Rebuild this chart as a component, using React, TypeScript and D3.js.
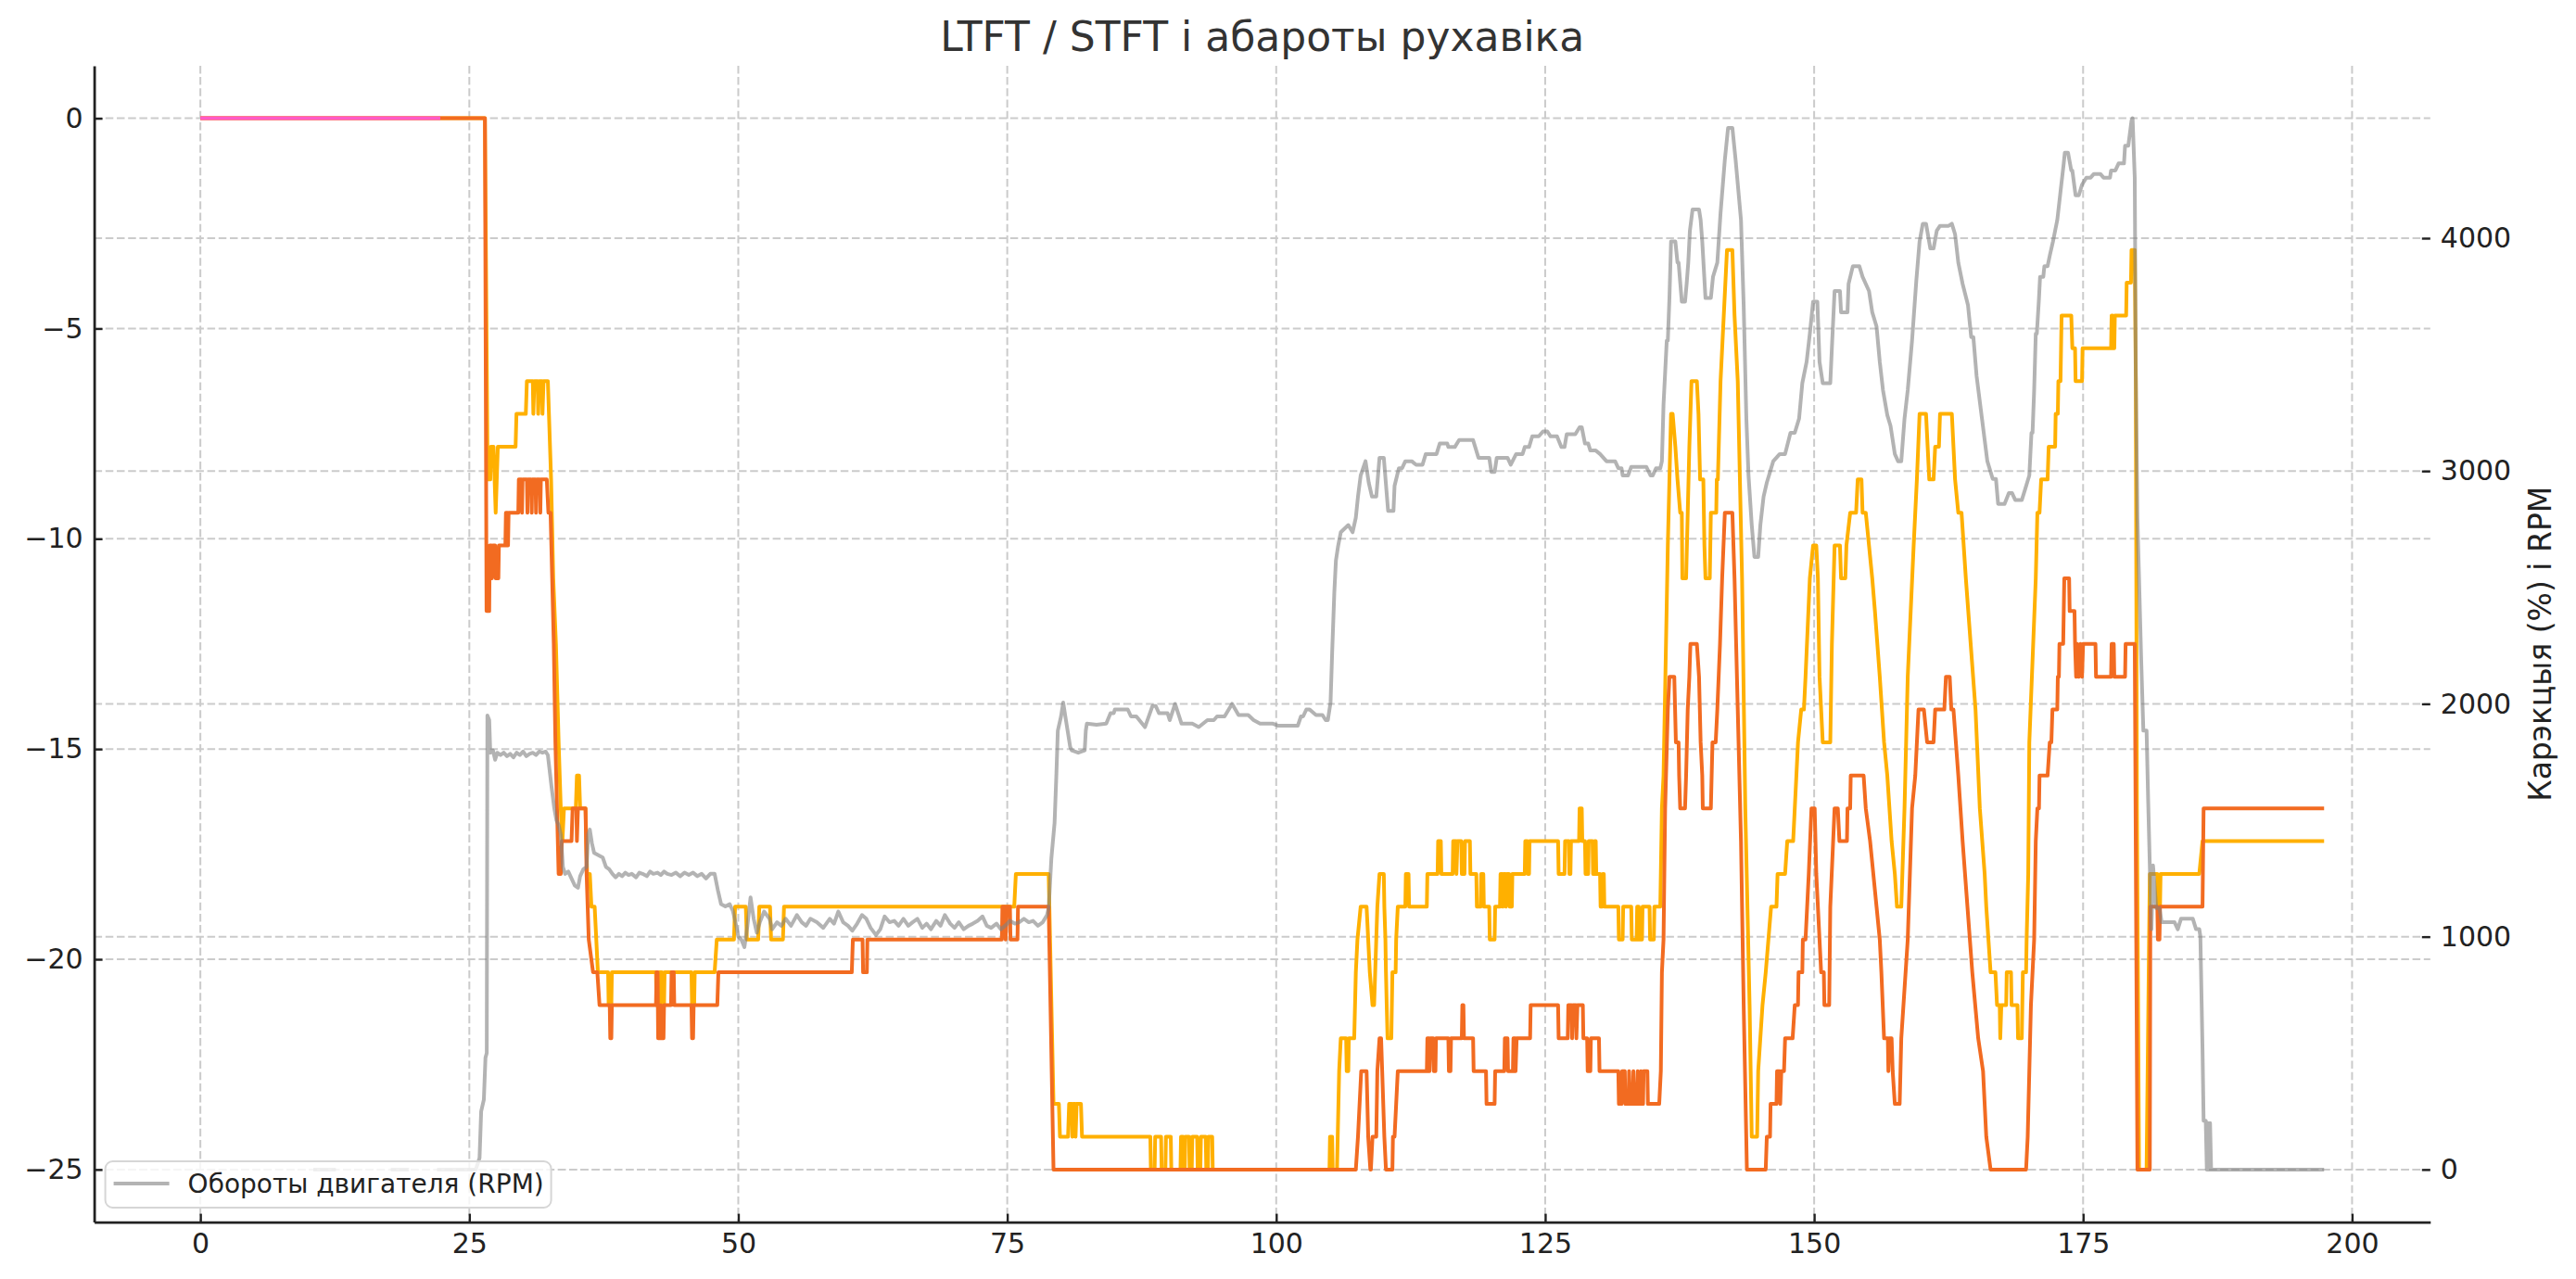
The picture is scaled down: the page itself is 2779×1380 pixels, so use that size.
import { useRef, useEffect } from "react";
import * as d3 from "d3";

type Pt = [number, number | null];

const TITLE = "LTFT / STFT і абароты рухавіка";
const RIGHT_LABEL = "Карэкцыя (%) і RPM";
const LEGEND_LABEL = "Обороты двигателя (RPM)";

const X_TICKS = [0, 25, 50, 75, 100, 125, 150, 175, 200];
const TRIM_TICKS = [-25, -20, -15, -10, -5, 0];
const RPM_TICKS = [0, 1000, 2000, 3000, 4000];

const W = 2779;
const H = 1380;
const FONT = "'DejaVu Sans', sans-serif";

const YELLOW = "#ffb000";
const ORANGE = "#f26b21";
const PINK = "#ff5ac8";
const GRID = "#cbcbcb";

// short trim trace at start (only before engine start)
const INIT_TRIM: Pt[] = [[0, 0], [22.3, 0]];

// STFT, yellow
const STFT: Pt[] = [
  [0, 0], [26.45, 0], [26.7, -8.59], [26.95, -8.59], [27.0, -7.81], [27.25, -7.81], [27.35, -8.59], [27.45, -9.38],
  [27.55, -8.59], [27.65, -7.81], [29.3, -7.81], [29.38, -7.03], [30.25, -7.03], [30.35, -6.25], [30.9, -6.25],
  [30.95, -7.03], [31.05, -6.25], [31.35, -6.25], [31.4, -7.03], [31.5, -6.25], [31.75, -6.25], [31.8, -7.03],
  [31.9, -6.25], [32.3, -6.25], [32.4, -7.03], [32.6, -8.59], [32.8, -10.94], [33.05, -12.5], [33.3, -14.84],
  [33.5, -16.41], [33.65, -17.19], [33.8, -16.41], [34.9, -16.41], [35.0, -15.63], [35.2, -15.63], [35.3, -16.41],
  [35.8, -16.41], [35.95, -17.97], [36.2, -17.97], [36.35, -18.75], [36.65, -18.75], [36.8, -19.53], [36.95, -20.31],
  [37.9, -20.31], [37.95, -21.09], [38.2, -21.09], [38.25, -20.31], [42.35, -20.31], [42.4, -21.09], [42.6, -21.09],
  [42.65, -20.31], [42.9, -20.31], [42.95, -21.09], [43.1, -21.09], [43.15, -20.31], [45.65, -20.31], [45.7, -21.09],
  [45.9, -21.09], [45.95, -20.31], [47.8, -20.31], [48.0, -19.53], [49.6, -19.53], [49.7, -18.75], [50.7, -18.75],
  [50.8, -19.53], [51.85, -19.53], [51.95, -18.75], [52.95, -18.75], [53.05, -19.53], [54.15, -19.53], [54.25, -18.75],
  [75.65, -18.75], [75.8, -17.97], [78.85, -17.97], [79.3, -23.44], [79.8, -23.44], [79.9, -24.22], [80.65, -24.22],
  [80.75, -23.44], [81.0, -23.44], [81.05, -24.22], [81.15, -23.44], [81.3, -23.44], [81.35, -24.22], [81.45, -23.44],
  [81.85, -23.44], [81.95, -24.22], [88.3, -24.22], [88.35, -25], [88.7, -25], [88.75, -24.22], [89.3, -24.22],
  [89.35, -25], [89.7, -25], [89.75, -24.22], [90.2, -24.22], [90.25, -25], [91.1, -25], [91.15, -24.22],
  [91.35, -24.22], [91.4, -25], [91.5, -25], [91.55, -24.22], [91.9, -24.22], [91.95, -25], [92.15, -25],
  [92.2, -24.22], [92.65, -24.22], [92.7, -25], [92.95, -25], [93.0, -24.22], [93.45, -24.22], [93.5, -25],
  [93.65, -25], [93.7, -24.22], [94.05, -24.22], [94.1, -25], [104.95, -25], [105.0, -24.22], [105.2, -24.22],
  [105.25, -25], [105.65, -25], [105.85, -22.66], [106.0, -21.88], [106.5, -21.88], [106.55, -22.66], [106.7, -22.66],
  [106.75, -21.88], [107.25, -21.88], [107.4, -20.31], [107.55, -19.53], [107.85, -18.75], [108.4, -18.75],
  [108.55, -19.53], [108.7, -20.31], [108.95, -21.09], [109.1, -21.09], [109.2, -20.31], [109.3, -19.53],
  [109.4, -18.75], [109.6, -17.97], [110.0, -17.97], [110.05, -18.75], [110.15, -19.53], [110.2, -20.31],
  [110.27, -21.09], [110.35, -21.88], [110.7, -21.88], [110.8, -20.31], [111.1, -20.31], [111.15, -19.53],
  [111.3, -18.75], [112.0, -18.75], [112.05, -17.97], [112.3, -17.97], [112.35, -18.75], [114.0, -18.75],
  [114.05, -17.97], [115.0, -17.97], [115.05, -17.19], [115.3, -17.19], [115.35, -17.97], [116.4, -17.97],
  [116.45, -17.19], [116.7, -17.19], [116.75, -17.97], [116.85, -17.19], [117.2, -17.19], [117.25, -17.97],
  [117.5, -17.97], [117.55, -17.19], [118.0, -17.19], [118.05, -17.97], [118.6, -17.97], [118.65, -18.75],
  [119.0, -18.75], [119.05, -17.97], [119.25, -17.97], [119.3, -18.75], [119.8, -18.75], [119.85, -19.53],
  [120.3, -19.53], [120.35, -18.75], [120.8, -18.75], [120.85, -17.97], [121.0, -17.97], [121.05, -18.75],
  [121.15, -17.97], [121.3, -17.97], [121.35, -18.75], [121.45, -17.97], [121.65, -17.97], [121.7, -18.75],
  [121.9, -18.75], [121.95, -17.97], [123.1, -17.97], [123.15, -17.19], [123.35, -17.19], [123.4, -17.97],
  [123.5, -17.97], [123.55, -17.19], [126.2, -17.19], [126.25, -17.97], [126.8, -17.97], [126.85, -17.19],
  [127.2, -17.19], [127.25, -17.97], [127.35, -17.97], [127.4, -17.19], [128.15, -17.19], [128.2, -16.41],
  [128.4, -16.41], [128.45, -17.19], [128.7, -17.19], [128.75, -17.97], [129.0, -17.97], [129.05, -17.19],
  [129.4, -17.19], [129.45, -17.97], [129.55, -17.97], [129.6, -17.19], [129.7, -17.19], [129.75, -17.97],
  [130.1, -17.97], [130.15, -18.75], [130.3, -18.75], [130.35, -17.97], [130.45, -17.97], [130.5, -18.75],
  [131.8, -18.75], [131.85, -19.53], [132.2, -19.53], [132.25, -18.75], [133.0, -18.75], [133.05, -19.53],
  [133.5, -19.53], [133.55, -18.75], [133.7, -18.75], [133.75, -19.53], [134.0, -19.53], [134.05, -18.75],
  [134.7, -18.75], [134.75, -19.53], [135.1, -19.53], [135.15, -18.75], [135.7, -18.75], [135.85, -16.41],
  [136.0, -15.63], [136.4, -10.16], [136.7, -7.03], [136.85, -7.03], [137.1, -7.81], [137.3, -8.59], [137.55, -9.38],
  [137.7, -9.38], [137.75, -10.94], [138.1, -10.94], [138.25, -9.38], [138.4, -7.81], [138.6, -6.25], [139.1, -6.25],
  [139.25, -7.03], [139.4, -8.59], [139.7, -8.59], [139.8, -10.16], [139.9, -10.94], [140.3, -10.94], [140.4, -9.38],
  [140.9, -9.38], [140.95, -8.59], [141.05, -8.59], [141.3, -6.25], [141.6, -4.69], [141.9, -3.13], [142.4, -3.13],
  [142.6, -4.69], [142.9, -6.25], [143.3, -10.94], [143.6, -16.41], [144.0, -21.09], [144.2, -24.22], [144.7, -24.22],
  [144.8, -22.66], [145.2, -21.09], [145.5, -20.31], [145.75, -19.53], [146.0, -18.75], [146.5, -18.75],
  [146.6, -17.97], [147.3, -17.97], [147.5, -17.19], [148.05, -17.19], [148.2, -16.41], [148.35, -15.63],
  [148.5, -14.84], [148.8, -14.06], [149.05, -14.06], [149.2, -13.28], [149.6, -10.94], [149.9, -10.16],
  [150.2, -10.16], [150.35, -10.94], [150.5, -13.28], [150.8, -14.84], [151.5, -14.84], [151.65, -12.5],
  [151.9, -10.16], [152.4, -10.16], [152.5, -10.94], [152.9, -10.94], [153.0, -10.16], [153.35, -9.38],
  [153.9, -9.38], [154.05, -8.59], [154.4, -8.59], [154.5, -9.38], [154.8, -9.38], [155.1, -10.16], [155.4, -10.94],
  [155.65, -11.72], [156.1, -13.28], [156.5, -14.84], [156.8, -15.63], [157.2, -17.19], [157.5, -17.97],
  [157.7, -18.75], [158.1, -18.75], [158.4, -16.41], [158.7, -13.28], [159.25, -10.16], [159.55, -8.59],
  [159.8, -7.03], [160.4, -7.03], [160.55, -7.81], [160.7, -8.59], [161.1, -8.59], [161.25, -7.81], [161.6, -7.81],
  [161.7, -7.03], [162.8, -7.03], [163.1, -8.59], [163.4, -9.38], [163.7, -9.38], [164.1, -10.94], [164.55, -12.5],
  [165.0, -14.06], [165.4, -16.41], [165.85, -17.97], [166.0, -18.75], [166.4, -20.31], [166.85, -20.31],
  [167.0, -21.09], [167.25, -21.09], [167.3, -21.88], [167.4, -21.09], [167.85, -21.09], [167.9, -20.31],
  [168.3, -20.31], [168.35, -21.09], [168.9, -21.09], [168.95, -21.88], [169.3, -21.88], [169.4, -20.31],
  [169.7, -20.31], [169.75, -19.53], [169.9, -17.97], [170.0, -14.84], [170.6, -10.94], [170.75, -9.38],
  [170.95, -9.38], [171.1, -8.59], [171.7, -8.59], [171.8, -7.81], [172.4, -7.81], [172.45, -7.03], [172.65, -7.03],
  [172.7, -6.25], [172.9, -6.25], [172.95, -5.47], [173.0, -4.69], [173.9, -4.69], [174.0, -5.47], [174.25, -5.47],
  [174.3, -6.25], [174.9, -6.25], [174.95, -5.47], [177.6, -5.47], [177.65, -4.69], [177.75, -4.69], [177.8, -5.47],
  [177.9, -5.47], [177.95, -4.69], [179.0, -4.69], [179.05, -3.91], [179.45, -3.91], [179.5, -3.13], [179.8, -3.13],
  [179.9, -6.25], [180.0, -16.41], [180.2, -25], [180.9, -25], [181.2, -17.97], [181.9, -17.97], [181.95, -18.75],
  [182.15, -18.75], [182.2, -17.97], [185.8, -17.97], [186.1, -17.19], [197.4, -17.19],
];

// LTFT, orange
const LTFT: Pt[] = [
  [0, 0], [26.45, 0], [26.6, -11.72], [26.85, -11.72], [26.9, -10.16], [27.05, -10.16], [27.1, -10.94], [27.2, -10.16],
  [27.4, -10.16], [27.45, -10.94], [27.7, -10.94], [27.75, -10.16], [28.35, -10.16], [28.4, -9.38], [28.55, -9.38],
  [28.6, -10.16], [28.65, -9.38], [29.55, -9.38], [29.6, -8.59], [29.85, -8.59], [29.9, -9.38], [29.95, -8.59],
  [30.35, -8.59], [30.4, -9.38], [30.45, -8.59], [30.75, -8.59], [30.8, -9.38], [30.85, -8.59], [31.15, -8.59],
  [31.2, -9.38], [31.25, -8.59], [31.55, -8.59], [31.6, -9.38], [31.65, -8.59], [32.2, -8.59], [32.35, -9.38],
  [32.55, -9.38], [32.7, -10.94], [32.85, -12.5], [33.0, -14.84], [33.15, -16.41], [33.3, -17.97], [33.5, -17.97],
  [33.6, -17.19], [34.5, -17.19], [34.6, -16.41], [34.95, -16.41], [35.0, -17.19], [35.1, -16.41], [35.8, -16.41],
  [35.9, -17.97], [36.1, -19.53], [36.5, -20.31], [36.9, -20.31], [37.1, -21.09], [38.05, -21.09], [38.1, -21.88],
  [38.2, -21.88], [38.25, -21.09], [42.35, -21.09], [42.4, -20.31], [42.5, -20.31], [42.55, -21.88], [42.75, -21.88],
  [42.8, -21.09], [42.85, -21.88], [43.05, -21.88], [43.1, -21.09], [43.75, -21.09], [43.8, -20.31], [44.0, -20.31],
  [44.05, -21.09], [45.65, -21.09], [45.7, -21.88], [45.8, -21.88], [45.85, -21.09], [48.05, -21.09], [48.15, -20.31],
  [60.55, -20.31], [60.65, -19.53], [61.55, -19.53], [61.6, -20.31], [61.95, -20.31], [62.0, -19.53], [74.5, -19.53],
  [74.55, -18.75], [74.8, -18.75], [74.85, -19.53], [74.95, -18.75], [75.25, -18.75], [75.3, -19.53], [75.95, -19.53],
  [76.0, -18.75], [78.85, -18.75], [79.3, -25], [107.4, -25], [107.6, -24.22], [107.9, -22.66], [108.4, -22.66],
  [108.55, -24.22], [108.75, -25], [108.8, -25], [108.95, -24.22], [109.3, -24.22], [109.4, -22.66], [109.6, -21.88],
  [109.75, -21.88], [109.85, -22.66], [110.05, -24.22], [110.2, -25], [110.8, -25], [110.85, -24.22], [111.0, -24.22],
  [111.15, -23.44], [111.3, -22.66], [114.0, -22.66], [114.05, -21.88], [114.2, -21.88], [114.25, -22.66],
  [114.35, -21.88], [114.6, -21.88], [114.65, -22.66], [114.8, -22.66], [114.85, -21.88], [116.0, -21.88],
  [116.05, -22.66], [116.2, -22.66], [116.25, -21.88], [117.25, -21.88], [117.3, -21.09], [117.4, -21.09],
  [117.45, -21.88], [118.3, -21.88], [118.35, -22.66], [119.5, -22.66], [119.55, -23.44], [120.3, -23.44],
  [120.35, -22.66], [121.2, -22.66], [121.25, -21.88], [121.5, -21.88], [121.55, -22.66], [122.0, -22.66],
  [122.05, -21.88], [122.2, -21.88], [122.25, -22.66], [122.35, -21.88], [123.6, -21.88], [123.65, -21.09],
  [126.2, -21.09], [126.25, -21.88], [127.1, -21.88], [127.15, -21.09], [127.45, -21.09], [127.5, -21.88],
  [127.6, -21.09], [127.85, -21.09], [127.9, -21.88], [128.0, -21.09], [128.5, -21.09], [128.55, -21.88],
  [128.9, -21.88], [128.95, -22.66], [129.2, -22.66], [129.25, -21.88], [130.0, -21.88], [130.05, -22.66],
  [131.8, -22.66], [131.85, -23.44], [132.1, -23.44], [132.15, -22.66], [132.4, -22.66], [132.45, -23.44],
  [132.75, -23.44], [132.8, -22.66], [132.9, -23.44], [133.15, -23.44], [133.2, -22.66], [133.3, -23.44],
  [133.55, -23.44], [133.6, -22.66], [133.7, -23.44], [133.85, -23.44], [133.9, -22.66], [134.0, -23.44],
  [134.1, -23.44], [134.15, -22.66], [134.5, -22.66], [134.55, -23.44], [135.6, -23.44], [135.75, -22.66],
  [135.85, -20.31], [136.0, -19.53], [136.15, -16.41], [136.4, -14.06], [136.55, -13.28], [137.0, -13.28],
  [137.15, -14.84], [137.4, -14.84], [137.45, -15.63], [137.55, -16.41], [138.0, -16.41], [138.1, -15.63],
  [138.25, -14.06], [138.4, -13.28], [138.5, -12.5], [139.1, -12.5], [139.3, -13.28], [139.45, -14.84],
  [139.6, -15.63], [139.65, -16.41], [140.4, -16.41], [140.55, -14.84], [140.85, -14.84], [141.0, -14.06],
  [141.25, -12.5], [141.45, -10.94], [141.7, -9.38], [142.4, -9.38], [142.6, -10.94], [142.75, -12.5], [143.2, -17.19],
  [143.45, -21.09], [143.75, -25], [145.5, -25], [145.6, -24.22], [145.9, -24.22], [145.95, -23.44], [146.5, -23.44],
  [146.55, -22.66], [146.8, -22.66], [146.85, -23.44], [146.95, -22.66], [147.2, -22.66], [147.3, -21.88],
  [148.0, -21.88], [148.2, -21.09], [148.5, -21.09], [148.55, -20.31], [148.9, -20.31], [148.95, -19.53],
  [149.2, -19.53], [149.5, -17.97], [149.75, -16.41], [150.05, -16.41], [150.2, -17.97], [150.5, -19.53],
  [150.65, -20.31], [150.9, -20.31], [150.95, -21.09], [151.4, -21.09], [151.5, -18.75], [151.9, -16.41],
  [152.2, -16.41], [152.35, -17.19], [153.05, -17.19], [153.1, -16.41], [153.35, -16.41], [153.4, -15.63],
  [154.6, -15.63], [154.8, -16.41], [155.2, -17.19], [155.5, -17.97], [155.8, -18.75], [156.1, -19.53],
  [156.25, -20.31], [156.5, -21.88], [156.85, -21.88], [156.9, -22.66], [157.0, -21.88], [157.2, -21.88],
  [157.3, -22.66], [157.5, -23.44], [157.95, -23.44], [158.1, -21.88], [158.7, -19.53], [159.1, -16.41],
  [159.4, -15.63], [159.7, -14.06], [160.2, -14.06], [160.5, -14.84], [161.1, -14.84], [161.25, -14.06],
  [162.1, -14.06], [162.25, -13.28], [162.6, -13.28], [162.75, -14.06], [162.95, -14.06], [163.4, -15.63],
  [163.8, -17.19], [164.25, -18.75], [164.7, -20.31], [165.25, -21.88], [165.7, -22.66], [166.0, -24.22],
  [166.4, -25], [169.7, -25], [169.85, -24.22], [170.0, -22.66], [170.15, -21.09], [170.45, -19.53], [170.6, -17.19],
  [170.75, -16.41], [170.9, -16.41], [170.95, -15.63], [171.7, -15.63], [171.9, -14.84], [172.05, -14.84],
  [172.15, -14.06], [172.6, -14.06], [172.65, -13.28], [172.75, -13.28], [172.8, -12.5], [173.15, -12.5],
  [173.2, -11.72], [173.25, -10.94], [173.7, -10.94], [173.75, -11.72], [174.2, -11.72], [174.25, -12.5],
  [174.35, -13.28], [174.45, -12.5], [174.6, -13.28], [174.75, -12.5], [174.9, -13.28], [175.0, -12.5],
  [176.15, -12.5], [176.2, -13.28], [177.6, -13.28], [177.65, -12.5], [177.85, -12.5], [177.9, -13.28],
  [178.9, -13.28], [178.95, -12.5], [179.8, -12.5], [180.05, -25], [181.2, -25], [181.25, -18.75], [181.9, -18.75],
  [181.95, -19.53], [182.1, -19.53], [182.15, -18.75], [186.1, -18.75], [186.2, -16.41], [197.4, -16.41],
];

// engine RPM, right axis (null = no sample)
const RPM: Pt[] = [
  [10.5, 0], [12.6, 0], [12.65, null], [17.7, 0], [19.4, 0], [19.45, null],
  [22.0, 0], [25.6, 0], [25.95, 50], [26.1, 250], [26.35, 300], [26.5, 480], [26.62, 500], [26.68, 1950], [26.85, 1930],
  [26.95, 1790], [27.2, 1800], [27.4, 1760], [27.6, 1790], [27.9, 1780], [28.2, 1790], [28.5, 1775], [28.8, 1785],
  [29.1, 1770], [29.4, 1790], [29.7, 1780], [30.0, 1795], [30.3, 1775], [30.6, 1785], [30.9, 1790], [31.2, 1780],
  [31.5, 1795], [31.8, 1790], [32.1, 1795], [32.3, 1780], [32.45, 1720], [32.65, 1640], [32.9, 1550], [33.1, 1500],
  [33.3, 1480], [33.5, 1440], [33.7, 1300], [33.9, 1270], [34.2, 1280], [34.5, 1250], [34.8, 1220], [35.1, 1210],
  [35.3, 1260], [35.6, 1290], [35.9, 1300], [36.05, 1440], [36.2, 1460], [36.4, 1400], [36.6, 1360], [37.0, 1350],
  [37.4, 1340], [37.7, 1300], [38.0, 1290], [38.3, 1270], [38.6, 1255], [38.9, 1270], [39.2, 1260], [39.5, 1275],
  [39.8, 1265], [40.1, 1270], [40.5, 1255], [40.8, 1275], [41.1, 1270], [41.5, 1260], [41.8, 1280], [42.1, 1270],
  [42.5, 1275], [42.8, 1265], [43.1, 1280], [43.4, 1270], [43.8, 1265], [44.2, 1275], [44.6, 1260], [45.0, 1275],
  [45.4, 1265], [45.8, 1275], [46.2, 1260], [46.6, 1270], [47.0, 1250], [47.4, 1270], [47.8, 1270], [48.1, 1200],
  [48.4, 1140], [48.8, 1130], [49.2, 1140], [49.5, 1110], [49.8, 1050], [50.0, 1000], [50.3, 986], [50.57, 955],
  [50.85, 1047], [51.14, 1169], [51.43, 1077], [51.72, 1017], [52.0, 1062], [52.4, 1108], [52.9, 1077], [53.15, 1032],
  [53.6, 1062], [54.0, 1047], [54.4, 1077], [54.9, 1047], [55.45, 1093], [55.9, 1062], [56.3, 1047], [56.7, 1077],
  [57.3, 1062], [57.9, 1038], [58.5, 1077], [58.9, 1056], [59.3, 1108], [59.75, 1062], [60.2, 1047], [60.6, 1026],
  [61.05, 1056], [61.5, 1093], [61.9, 1077], [62.3, 1038], [62.8, 1007], [63.2, 1032], [63.6, 1087], [64.05, 1062],
  [64.5, 1068], [64.9, 1047], [65.35, 1077], [65.8, 1047], [66.2, 1062], [66.65, 1077], [67.1, 1038], [67.5, 1056],
  [67.9, 1032], [68.4, 1068], [68.8, 1047], [69.2, 1093], [69.7, 1056], [70.1, 1038], [70.5, 1062], [70.95, 1032],
  [71.4, 1047], [71.8, 1056], [72.25, 1068], [72.7, 1087], [73.1, 1047], [73.5, 1038], [74.0, 1056], [74.4, 1032],
  [74.8, 1047], [75.25, 1068], [75.7, 1056], [76.1, 1062], [76.55, 1077], [77.0, 1062], [77.4, 1068], [77.85, 1047],
  [78.3, 1062], [78.7, 1093], [78.85, 1123], [79.1, 1336], [79.4, 1490], [79.57, 1702], [79.7, 1885], [80.0, 1946],
  [80.2, 2006], [80.4, 1946], [80.85, 1815], [81.0, 1800], [81.6, 1790], [82.2, 1800], [82.3, 1885], [82.4, 1915],
  [83.3, 1910], [84.2, 1915], [84.6, 1960], [84.9, 1960], [85.0, 1976], [86.2, 1976], [86.5, 1946], [87.0, 1946],
  [87.8, 1900], [88.5, 1991], [88.8, 1991], [89.1, 1960], [89.9, 1960], [90.1, 1930], [90.6, 2000], [91.2, 1915],
  [92.2, 1915], [92.8, 1900], [93.6, 1930], [94.2, 1930], [94.5, 1946], [95.2, 1946], [95.9, 2000], [96.5, 1952],
  [97.4, 1952], [97.9, 1930], [98.5, 1915], [99.7, 1915], [100.2, 1906], [102.0, 1906], [102.3, 1946], [102.5, 1946],
  [102.8, 1976], [103.1, 1976], [103.7, 1952], [104.3, 1952], [104.6, 1930], [104.8, 1930], [105.05, 2006],
  [105.2, 2220], [105.4, 2478], [105.55, 2616], [105.75, 2677], [106.0, 2737], [106.7, 2768], [107.1, 2737],
  [107.4, 2800], [107.6, 2890], [107.85, 2981], [108.3, 3042], [108.6, 2950], [108.9, 2890], [109.3, 2890],
  [109.6, 3057], [110.0, 3057], [110.4, 2829], [110.9, 2829], [111.0, 2936], [111.4, 3012], [111.7, 3012],
  [112.0, 3042], [112.6, 3042], [113.0, 3027], [113.6, 3027], [113.9, 3073], [114.9, 3073], [115.2, 3118],
  [115.9, 3118], [116.0, 3103], [116.6, 3103], [117.0, 3133], [118.3, 3133], [118.8, 3057], [119.8, 3057],
  [120.0, 2996], [120.3, 2996], [120.5, 3057], [121.5, 3057], [121.8, 3027], [122.3, 3073], [122.9, 3073],
  [123.1, 3103], [123.5, 3103], [123.8, 3149], [124.4, 3149], [124.8, 3170], [125.2, 3170], [125.5, 3149],
  [126.1, 3149], [126.5, 3103], [126.8, 3103], [127.0, 3158], [127.8, 3158], [128.2, 3188], [128.4, 3188],
  [128.7, 3118], [129.0, 3118], [129.2, 3088], [129.7, 3088], [130.1, 3073], [130.7, 3042], [131.5, 3042],
  [131.8, 3012], [132.1, 3012], [132.2, 2981], [132.7, 2981], [133.0, 3018], [134.4, 3018], [134.8, 2981],
  [135.0, 2981], [135.3, 3012], [135.7, 3012], [135.85, 3042], [136.0, 3286], [136.3, 3560], [136.4, 3560],
  [136.55, 3743], [136.7, 3986], [137.1, 3986], [137.3, 3895], [137.4, 3895], [137.7, 3727], [138.0, 3727],
  [138.15, 3804], [138.3, 3895], [138.45, 4032], [138.7, 4123], [139.3, 4123], [139.45, 4078], [139.6, 3986],
  [139.9, 3743], [140.4, 3743], [140.6, 3834], [141.0, 3895], [141.3, 4108], [141.7, 4337], [142.0, 4474],
  [142.4, 4474], [142.7, 4337], [143.2, 4078], [143.45, 3712], [143.7, 3225], [143.9, 2981], [144.2, 2768],
  [144.45, 2631], [144.8, 2631], [145.0, 2768], [145.3, 2890], [145.6, 2950], [146.2, 3042], [146.8, 3073],
  [147.3, 3073], [147.8, 3164], [148.2, 3164], [148.6, 3225], [148.9, 3377], [149.3, 3469], [149.6, 3590],
  [149.9, 3727], [150.3, 3727], [150.5, 3469], [150.8, 3377], [151.5, 3377], [151.65, 3530], [151.9, 3773],
  [152.4, 3773], [152.5, 3682], [153.1, 3682], [153.2, 3804], [153.6, 3880], [154.2, 3880], [154.5, 3834],
  [155.1, 3773], [155.4, 3682], [155.8, 3621], [156.1, 3469], [156.4, 3347], [156.8, 3240], [157.1, 3194],
  [157.5, 3073], [157.8, 3042], [158.1, 3042], [158.4, 3225], [158.7, 3347], [159.1, 3560], [159.5, 3819],
  [159.8, 3986], [160.1, 4062], [160.4, 4062], [160.8, 3956], [161.1, 3956], [161.4, 4032], [161.7, 4053],
  [162.5, 4053], [162.8, 4062], [163.1, 4017], [163.4, 3895], [163.8, 3804], [164.3, 3712], [164.6, 3575],
  [164.8, 3575], [165.1, 3408], [165.6, 3225], [166.1, 3042], [166.6, 2966], [166.9, 2966], [167.1, 2859],
  [167.7, 2859], [168.1, 2905], [168.4, 2905], [168.7, 2875], [169.3, 2875], [169.6, 2920], [170.0, 2981],
  [170.2, 3164], [170.3, 3164], [170.45, 3347], [170.6, 3590], [170.7, 3590], [170.9, 3743], [171.0, 3834],
  [171.3, 3834], [171.4, 3880], [171.7, 3880], [171.9, 3925], [172.2, 3986], [172.4, 4032], [172.6, 4078],
  [172.9, 4200], [173.2, 4321], [173.3, 4367], [173.6, 4367], [173.9, 4291], [174.0, 4291], [174.3, 4184],
  [174.6, 4184], [174.9, 4230], [175.3, 4260], [175.7, 4260], [176.0, 4276], [176.6, 4276], [176.9, 4260],
  [177.5, 4260], [177.6, 4291], [178.0, 4291], [178.3, 4321], [178.8, 4321], [178.9, 4397], [179.2, 4397],
  [179.5, 4504], [179.6, 4515], [179.8, 4260], [179.9, 3408], [180.05, 2798], [180.4, 2189], [180.6, 1885],
  [180.9, 1885], [181.05, 1580], [181.2, 1306], [181.35, 1032], [181.5, 1306], [181.8, 1123], [182.1, 1123],
  [182.3, 1062], [183.5, 1062], [183.8, 1032], [184.1, 1077], [185.2, 1077], [185.5, 1032], [185.8, 1032],
  [185.9, 1001], [186.1, 514], [186.2, 210], [186.4, 210], [186.5, 0], [186.6, 200], [186.7, 0], [186.8, 200],
  [186.9, 0], [197.4, 0],
];

function padded(lo: number, hi: number): [number, number] {
  const p = (hi - lo) * 0.05;
  return [lo - p, hi + p];
}

export default function App() {
  const svgRef = useRef<SVGSVGElement>(null);

  useEffect(() => {
    if (!svgRef.current) return;
    const svg = d3.select(svgRef.current);
    svg.selectAll("*").remove();

    const left = 101.6, right = 2621.8, top = 70.9, bottom = 1318.6;

    const all = [...STFT, ...LTFT, ...INIT_TRIM, ...RPM];
    const [t0, t1] = d3.extent(all, (d) => d[0]) as [number, number];
    const trims = [...STFT, ...LTFT, ...INIT_TRIM].map((d) => d[1] as number);
    const rpms = RPM.filter((d) => d[1] !== null).map((d) => d[1] as number);

    const x = d3.scaleLinear().domain(padded(t0, t1)).range([left, right]);
    const y = d3.scaleLinear().domain(padded(d3.min(trims)!, d3.max(trims)!)).range([bottom, top]);
    const y2 = d3.scaleLinear().domain(padded(d3.min(rpms)!, d3.max(rpms)!)).range([bottom, top]);

    svg.append("rect").attr("width", W).attr("height", H).attr("fill", "#fff");

    // ─── grid ───
    const grid = svg.append("g").attr("stroke", GRID).attr("stroke-width", 2).attr("stroke-dasharray", "8.5 3.7");
    grid.selectAll("line.gx").data(X_TICKS).join("line").attr("class", "gx")
      .attr("x1", (d) => x(d)).attr("x2", (d) => x(d)).attr("y1", top).attr("y2", bottom);
    grid.selectAll("line.gy").data(TRIM_TICKS).join("line").attr("class", "gy")
      .attr("x1", left).attr("x2", right).attr("y1", (d) => y(d)).attr("y2", (d) => y(d));
    grid.selectAll("line.gr").data(RPM_TICKS).join("line").attr("class", "gr")
      .attr("x1", left).attr("x2", right).attr("y1", (d) => y2(d)).attr("y2", (d) => y2(d));

    // ─── trim lines ───
    const line = d3.line<Pt>().x((d) => x(d[0])).y((d) => y(d[1] as number));
    const drawTrim = (data: Pt[], color: string) =>
      svg.append("path").datum(data).attr("d", line).attr("fill", "none")
        .attr("stroke", color).attr("stroke-width", 4).attr("stroke-linejoin", "round");
    drawTrim(STFT, YELLOW);
    drawTrim(LTFT, ORANGE);
    drawTrim(INIT_TRIM, PINK);

    // ─── rpm ───
    const rpmLine = d3.line<Pt>().defined((d) => d[1] !== null).x((d) => x(d[0])).y((d) => y2(d[1] as number));
    svg.append("path").datum(RPM).attr("d", rpmLine).attr("fill", "none")
      .attr("stroke", "gray").attr("stroke-opacity", 0.6).attr("stroke-width", 4).attr("stroke-linejoin", "round");

    // ─── axes ───
    const styleAxis = (g: d3.Selection<SVGGElement, unknown, null, undefined>) => {
      g.selectAll("text").attr("fill", "#222").attr("font-family", FONT).attr("font-size", 30);
      g.selectAll(".tick line").attr("stroke", "#222").attr("stroke-width", 2.4);
      g.select(".domain").attr("stroke", "#222").attr("stroke-width", 2.8);
    };
    const fmt = d3.format("d");
    const xAxis = svg.append("g").attr("transform", `translate(0,${bottom})`)
      .call(d3.axisBottom(x).tickValues(X_TICKS).tickFormat(fmt).tickSizeInner(-9).tickSizeOuter(0).tickPadding(12));
    styleAxis(xAxis);
    const yAxis = svg.append("g").attr("transform", `translate(${left},0)`)
      .call(d3.axisLeft(y).tickValues(TRIM_TICKS).tickFormat(fmt).tickSizeInner(-9).tickSizeOuter(0).tickPadding(12));
    styleAxis(yAxis);
    const y2Axis = svg.append("g").attr("transform", `translate(${right},0)`)
      .call(d3.axisRight(y2).tickValues(RPM_TICKS).tickFormat(fmt).tickSizeInner(-9).tickSizeOuter(0).tickPadding(11));
    styleAxis(y2Axis);
    y2Axis.select(".domain").remove();

    // ─── labels ───
    svg.append("text").attr("x", (left + right) / 2).attr("y", 55).attr("text-anchor", "middle")
      .attr("fill", "#333").attr("font-family", FONT).attr("font-size", 44).text(TITLE);
    svg.append("text").attr("transform", `translate(2752,${(top + bottom) / 2}) rotate(-90)`)
      .attr("text-anchor", "middle").attr("fill", "#222").attr("font-family", FONT).attr("font-size", 33)
      .text(RIGHT_LABEL);

    // ─── legend ───
    const lg = svg.append("g").attr("transform", "translate(113.6,1253)");
    lg.append("rect").attr("width", 481).attr("height", 50).attr("rx", 8)
      .attr("fill", "#fff").attr("fill-opacity", 0.8).attr("stroke", "#d6d6d6").attr("stroke-width", 2);
    lg.append("line").attr("x1", 9).attr("x2", 69).attr("y1", 24).attr("y2", 24)
      .attr("stroke", "gray").attr("stroke-opacity", 0.6).attr("stroke-width", 4);
    lg.append("text").attr("x", 89).attr("y", 34).attr("fill", "#222")
      .attr("font-family", FONT).attr("font-size", 28).text(LEGEND_LABEL);
  }, []);

  return (
    <svg ref={svgRef} width={W} height={H} style={{ position: "absolute", left: 0, top: 0 }} />
  );
}
